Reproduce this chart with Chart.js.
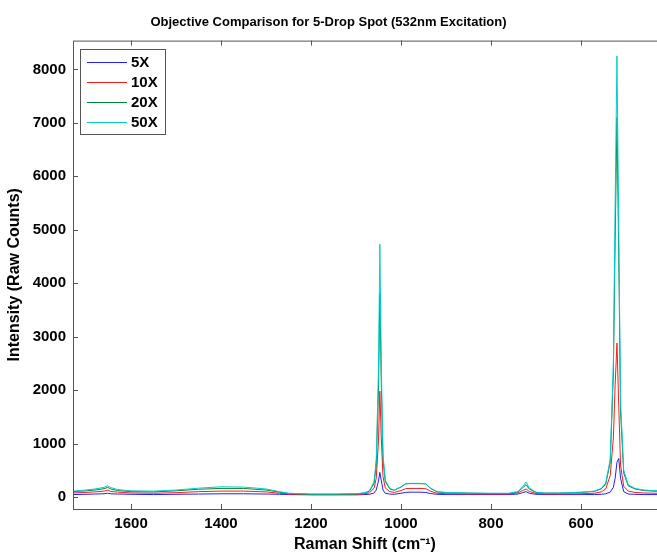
<!DOCTYPE html>
<html>
<head>
<meta charset="utf-8">
<script src="https://cdn.jsdelivr.net/npm/chart.js@4.4.1/dist/chart.umd.min.js"></script>
<style>
  html, body { margin: 0; padding: 0; background: #fff; }
  #wrap { width: 657px; height: 554px; }
</style>
</head>
<body>
<div id="wrap"><canvas id="raman-chart" width="657" height="554"></canvas></div>
<script>
// Raman shift (cm-1) sample positions, shared by all series
const shift = [1729, 1700, 1680, 1660, 1652, 1645, 1630, 1600, 1550, 1500, 1450, 1400, 1350, 1300, 1270, 1250,
    1200, 1150, 1100, 1080, 1070, 1060, 1055, 1050, 1047, 1044, 1040, 1035, 1025, 1015, 1000, 990, 980,
    960, 945, 935, 920, 900, 850, 800, 760, 740, 730, 722, 715, 700, 680, 650, 600, 570, 555, 545, 535,
    528, 524, 520, 516, 512, 505, 495, 480, 460, 440, 431];

const counts5x = [45, 50, 55, 60, 70, 60, 55, 50, 45, 50, 55, 60, 60, 55, 50, 45,
    40, 40, 40, 45, 50, 75, 130, 300, 460, 320, 130, 70, 55, 50, 70, 85, 90,
    90, 85, 65, 50, 45, 45, 45, 45, 55, 80, 100, 70, 50, 45, 45, 45, 45, 50, 60, 90,
    180, 350, 650, 720, 350, 100, 55, 50, 45, 45, 45];

const counts10x = [75, 85, 95, 110, 130, 105, 90, 75, 70, 80, 100, 110, 110, 95, 70, 55,
    45, 45, 50, 60, 80, 160, 350, 1050, 1980, 1150, 380, 170, 100, 85, 120, 155, 160,
    160, 155, 110, 70, 60, 55, 55, 55, 75, 120, 150, 105, 65, 55, 55, 60, 70, 95, 150, 400,
    1100, 2100, 2880, 1700, 600, 200, 110, 85, 75, 70, 70];

const counts20x = [100, 115, 130, 155, 180, 150, 120, 100, 95, 115, 145, 160, 160, 130, 90, 65,
    50, 50, 55, 75, 110, 250, 600, 2000, 3800, 2200, 700, 290, 150, 125, 185, 245, 250,
    250, 245, 165, 95, 80, 70, 65, 65, 95, 170, 230, 150, 85, 70, 70, 85, 105, 150, 240, 650,
    2300, 4800, 7100, 4500, 1600, 450, 210, 150, 120, 110, 108];

const counts50x = [110, 130, 150, 180, 210, 175, 140, 115, 110, 130, 165, 190, 185, 150, 100, 70,
    55, 55, 60, 80, 120, 280, 700, 2400, 4730, 2600, 800, 320, 160, 130, 190, 250, 255,
    255, 250, 170, 100, 85, 75, 70, 70, 100, 190, 280, 170, 90, 75, 75, 90, 110, 160, 260, 700,
    2500, 5500, 8250, 5000, 1800, 500, 230, 160, 130, 120, 118];

const seriesNames = ["5X", "10X", "20X", "50X"];
const seriesColors = ["#2020ff", "#ff1a1a", "#00883a", "#00cccc"];
const xTicks = [1600, 1400, 1200, 1000, 800, 600];
const yTicks = [0, 1000, 2000, 3000, 4000, 5000, 6000, 7000, 8000];

const toPoints = (vals) => vals.map((v, i) => ({ x: shift[i], y: v }));
const allCounts = [counts5x, counts10x, counts20x, counts50x];

const datasets = allCounts.map((vals, i) => ({
    label: seriesNames[i],
    data: toPoints(vals),
    borderColor: seriesColors[i],
    backgroundColor: seriesColors[i],
    borderWidth: 1,
    pointRadius: 0,
    tension: 0,
    order: 4 - i
}));

const FONT = "'Liberation Sans', Arial, sans-serif";
const frameColor = "#555";

// MATLAB style box with inward ticks, plus the boxed legend
const matlabFrame = {
    id: 'matlabFrame',
    afterDatasetsDraw(chart) {
        const ctx = chart.ctx;
        const area = chart.chartArea;
        const xs = chart.scales.x;
        const ys = chart.scales.y;
        ctx.save();
        ctx.strokeStyle = frameColor;
        ctx.lineWidth = 1;
        ctx.strokeRect(area.left + 0.5, area.top + 0.5, area.right - area.left, area.bottom - area.top);
        ctx.beginPath();
        xTicks.forEach(v => {
            const px = Math.round(xs.getPixelForValue(v)) + 0.5;
            ctx.moveTo(px, area.bottom);
            ctx.lineTo(px, area.bottom - 5);
            ctx.moveTo(px, area.top);
            ctx.lineTo(px, area.top + 5);
        });
        yTicks.forEach(v => {
            const py = Math.round(ys.getPixelForValue(v)) + 0.5;
            ctx.moveTo(area.left, py);
            ctx.lineTo(area.left + 5, py);
        });
        ctx.stroke();

        // legend
        const lx = 80, ly = 49, lw = 85, lh = 85;
        ctx.fillStyle = "#fff";
        ctx.fillRect(lx, ly, lw, lh);
        ctx.strokeRect(lx + 0.5, ly + 0.5, lw, lh);
        ctx.font = "bold 15px " + FONT;
        ctx.textBaseline = "middle";
        ctx.textAlign = "left";
        seriesNames.forEach((name, i) => {
            const y = ly + 13 + i * 20;
            ctx.strokeStyle = seriesColors[i];
            ctx.beginPath();
            ctx.moveTo(87, y + 0.5);
            ctx.lineTo(127, y + 0.5);
            ctx.stroke();
            ctx.fillStyle = "#000";
            ctx.fillText(name, 131, y + 1);
        });
        ctx.restore();
    }
};

new Chart(document.getElementById("raman-chart"), {
    type: 'line',
    data: { datasets: datasets },
    options: {
        responsive: false,
        animation: false,
        layout: { padding: 0 },
        scales: {
            x: {
                type: 'linear',
                reverse: true,
                min: 431,
                max: 1729,
                grid: { display: false, drawTicks: false },
                border: { display: false },
                afterBuildTicks: (scale) => { scale.ticks = xTicks.map(v => ({ value: v })); },
                afterFit: (scale) => { scale.height = 45; },
                ticks: {
                    padding: 6,
                    color: "#000",
                    callback: (v) => String(v),
                    font: { family: FONT, size: 15, weight: 'bold' }
                },
                title: {
                    display: true,
                    text: "Raman Shift (cm\u207B\u00B9)",
                    color: "#000",
                    padding: { top: 0, bottom: 0 },
                    font: { family: FONT, size: 16, weight: 'bold' }
                }
            },
            y: {
                type: 'linear',
                min: -225,
                max: 8540,
                grid: { display: false, drawTicks: false },
                border: { display: false },
                afterBuildTicks: (scale) => { scale.ticks = yTicks.map(v => ({ value: v })); },
                afterFit: (scale) => { scale.width = 73; },
                ticks: {
                    padding: 7,
                    color: "#000",
                    callback: (v) => String(v),
                    font: { family: FONT, size: 15, weight: 'bold' }
                },
                title: {
                    display: true,
                    text: "Intensity (Raw Counts)",
                    color: "#000",
                    padding: { top: 5, bottom: 0 },
                    font: { family: FONT, size: 16, weight: 'bold' }
                }
            }
        },
        plugins: {
            legend: { display: false },
            tooltip: { enabled: false },
            title: {
                display: true,
                text: "Objective Comparison for 5-Drop Spot (532nm Excitation)",
                color: "#000",
                padding: { top: 15, bottom: 10 },
                font: { family: FONT, size: 13, weight: 'bold' }
            }
        }
    },
    plugins: [matlabFrame]
});
</script>
</body>
</html>
